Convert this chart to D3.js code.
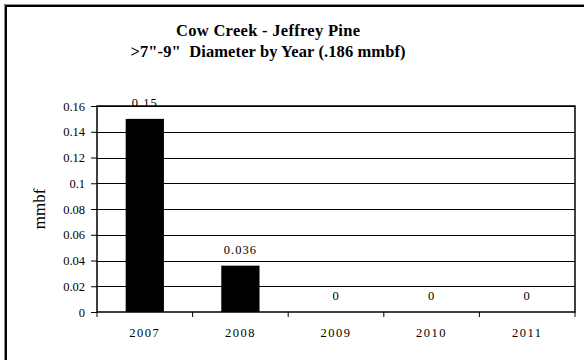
<!DOCTYPE html>
<html>
<head>
<meta charset="utf-8">
<script src="https://cdn.jsdelivr.net/npm/d3@7/dist/d3.min.js"></script>
<style>
  html, body { margin: 0; padding: 0; background: #fff; }
  svg { display: block; }
  svg text { font-family: "Liberation Serif", "Times New Roman", Times, "Nimbus Roman", "DejaVu Serif", serif !important; fill: #000; }
</style>
</head>
<body>
<svg id="chart" width="584" height="360"></svg>
<script>
// Harvest volume by year, >7"-9" diameter class (mmbf)
const years = ["2007", "2008", "2009", "2010", "2011"];
const volumes = [0.15, 0.036, 0, 0, 0];
const valueLabels = ["0.15", "0.036", "0", "0", "0"];
const yTicks = [0, 0.02, 0.04, 0.06, 0.08, 0.1, 0.12, 0.14, 0.16];
const titleLines = ["Cow Creek - Jeffrey Pine", ">7\"-9\"  Diameter by Year (.186 mmbf)"];
const yTitle = "mmbf";

const serif = "'Liberation Serif', 'Times New Roman', Times, serif";
const svg = d3.select("#chart");
const plot = { left: 97, right: 575, top: 106, bottom: 312 };

// Outer chart frame (runs off the right and bottom edges)
svg.append("rect")
  .attr("x", 4.5).attr("y", 4.5).attr("width", 700).attr("height", 500)
  .attr("fill", "none").attr("stroke", "#888").attr("stroke-width", 1);
svg.append("rect")
  .attr("x", 6).attr("y", 6).attr("width", 700).attr("height", 500)
  .attr("fill", "#fff").attr("stroke", "#000").attr("stroke-width", 2);

const x = d3.scaleBand().domain(years).range([plot.left, plot.right]).paddingInner(0.6).paddingOuter(0.3);
const xEdges = d3.scaleBand().domain(years).range([plot.left, plot.right]);
const y = d3.scaleLinear().domain([0, 0.16]).range([plot.bottom, plot.top]);

// Horizontal gridlines
svg.append("g").selectAll("line").data(yTicks.slice(1)).join("line")
  .attr("x1", plot.left).attr("x2", plot.right)
  .attr("y1", d => Math.round(y(d)) + 0.5).attr("y2", d => Math.round(y(d)) + 0.5)
  .attr("stroke", "#000").attr("stroke-width", 1);

// Bars
svg.append("g").selectAll("rect").data(years).join("rect")
  .attr("x", d => x(d))
  .attr("y", (d, i) => y(volumes[i]))
  .attr("width", x.bandwidth())
  .attr("height", (d, i) => y(0) - y(volumes[i]))
  .attr("fill", "#000");

// Plot frame
svg.append("rect")
  .attr("x", plot.left).attr("y", plot.top)
  .attr("width", plot.right - plot.left).attr("height", plot.bottom - plot.top)
  .attr("fill", "none").attr("stroke", "#000").attr("stroke-width", 1.5);

// Y axis
const yAxis = d3.axisLeft(y).tickValues(yTicks).tickSize(6).tickPadding(6)
  .tickFormat(d => d === 0 ? "0" : String(+d.toFixed(2)));
const gy = svg.append("g").attr("transform", `translate(${plot.left},0)`).call(yAxis)
  .attr("font-family", serif).attr("font-size", 12);
gy.select(".domain").remove();
gy.selectAll(".tick line").attr("stroke", "#000");
gy.selectAll(".tick text").attr("font-family", serif).attr("font-size", 12.5);

// X axis with ticks at category boundaries
const gx = svg.append("g").attr("transform", `translate(0,${plot.bottom})`);
gx.selectAll("line").data(years.concat(["end"])).join("line")
  .attr("x1", (d, i) => i < years.length ? xEdges(d) : plot.right)
  .attr("x2", (d, i) => i < years.length ? xEdges(d) : plot.right)
  .attr("y1", 0).attr("y2", 5).attr("stroke", "#000");
gx.selectAll("text").data(years).join("text")
  .attr("x", d => xEdges(d) + xEdges.bandwidth() / 2)
  .attr("y", 25)
  .attr("text-anchor", "middle")
  .attr("font-family", serif)
  .attr("font-size", 12.5)
  .attr("letter-spacing", 1.5)
  .text(d => d);

// Value labels
svg.append("g").selectAll("text").data(years).join("text")
  .attr("x", d => x(d) + x.bandwidth() / 2)
  .attr("y", (d, i) => y(volumes[i]) - 12)
  .attr("text-anchor", "middle")
  .attr("font-family", serif)
  .attr("font-size", 12.5)
  .attr("letter-spacing", 1)
  .text((d, i) => valueLabels[i]);

// Titles
svg.append("text").attr("x", 268).attr("y", 36)
  .attr("text-anchor", "middle").attr("font-family", serif)
  .attr("font-size", 16.5).attr("font-weight", "bold")
  .attr("textLength", 184).attr("lengthAdjust", "spacing")
  .text(titleLines[0]);
svg.append("text").attr("x", 268).attr("y", 57)
  .attr("text-anchor", "middle").attr("font-family", serif)
  .attr("font-size", 16.5).attr("font-weight", "bold")
  .attr("textLength", 275).attr("lengthAdjust", "spacing")
  .style("white-space", "pre")
  .text(titleLines[1]);

// Y axis title
svg.append("text")
  .attr("transform", `translate(45,${(plot.top + plot.bottom) / 2}) rotate(-90)`)
  .attr("text-anchor", "middle").attr("font-family", serif).attr("font-size", 17)
  .text(yTitle);
</script>
</body>
</html>
